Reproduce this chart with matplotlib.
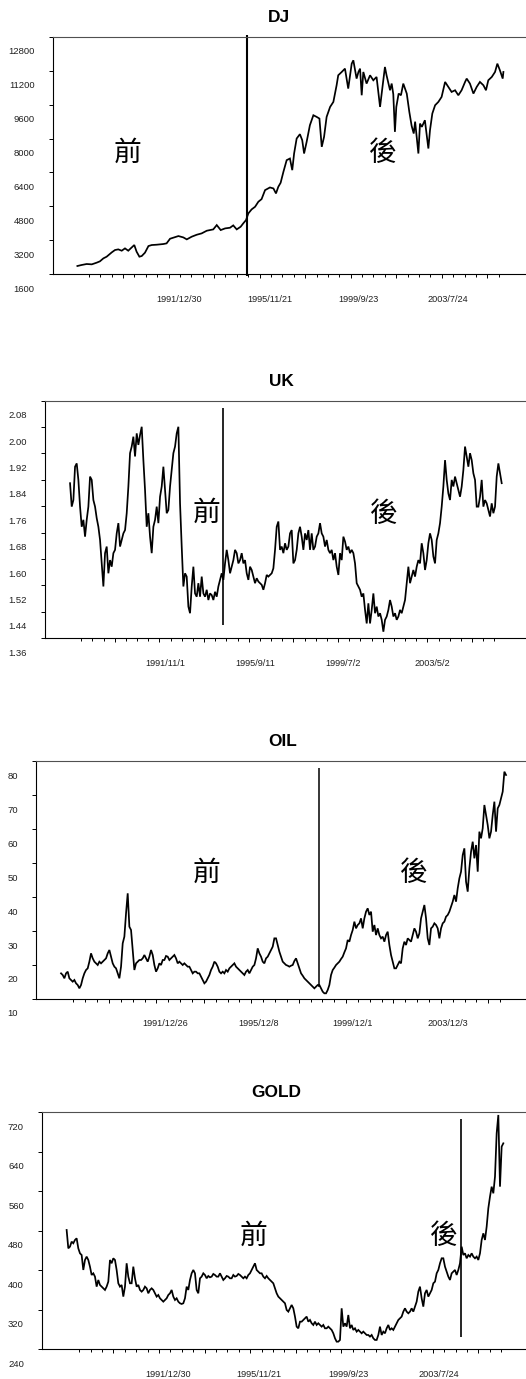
import numpy as np
import pandas as pd
import matplotlib
matplotlib.use("Agg")
import matplotlib.pyplot as plt
from matplotlib.transforms import ScaledTranslation, blended_transform_factory

# ---------------------------------------------------------------- data
# Dow Jones index: (decimal year, level)
dj_years = [
    1987.62, 1987.80, 1988.02, 1988.24, 1988.45, 1988.59, 1988.74, 1988.88, 1989.10, 1989.24,
    1989.38, 1989.53, 1989.67, 1989.81, 1989.96, 1990.07, 1990.17, 1990.29, 1990.39, 1990.53,
    1990.68, 1990.82, 1991.03, 1991.32, 1991.46, 1991.61, 1991.75, 1991.97, 1992.18, 1992.33,
    1992.54, 1992.76, 1992.97, 1993.19, 1993.47, 1993.62, 1993.79, 1993.98, 1994.19, 1994.33,
    1994.48, 1994.65, 1994.76, 1994.88, 1994.98, 1995.12, 1995.27, 1995.41, 1995.55, 1995.70,
    1995.91, 1996.06, 1996.17, 1996.27, 1996.37, 1996.49, 1996.63, 1996.77, 1996.87, 1996.95,
    1997.06, 1997.20, 1997.30, 1997.38, 1997.49, 1997.63, 1997.78, 1997.92, 1998.04, 1998.14,
    1998.24, 1998.35, 1998.50, 1998.64, 1998.78, 1998.85, 1999.00, 1999.14, 1999.28, 1999.43,
    1999.50, 1999.64, 1999.72, 1999.79, 1999.86, 1999.93, 2000.07, 2000.22, 2000.36, 2000.50,
    2000.65, 2000.79, 2000.86, 2000.93, 2001.08, 2001.15, 2001.22, 2001.29, 2001.35, 2001.45,
    2001.55, 2001.65, 2001.80, 2001.91, 2002.01, 2002.10, 2002.16, 2002.30, 2002.37, 2002.45,
    2002.58, 2002.73, 2002.80, 2002.90, 2003.02, 2003.16, 2003.30, 2003.45, 2003.59, 2003.73,
    2003.88, 2004.02, 2004.16, 2004.31, 2004.38, 2004.52, 2004.67, 2004.81, 2004.95, 2005.10,
    2005.21, 2005.31, 2005.46, 2005.60, 2005.70, 2005.81, 2005.93, 2005.96,
]
dj_values = [
    1978, 2025, 2072, 2056, 2135, 2198, 2339, 2418, 2622, 2733,
    2764, 2701, 2811, 2701, 2858, 2969, 2654, 2418, 2449, 2607,
    2921, 2969, 2984, 3016, 3047, 3267, 3315, 3393, 3330, 3236,
    3362, 3456, 3519, 3645, 3708, 3912, 3676, 3755, 3786, 3897,
    3708, 3834, 3991, 4148, 4463, 4652, 4777, 5013, 5139, 5564,
    5690, 5643, 5407, 5721, 5910, 6429, 6980, 7058, 6508, 7294,
    8002, 8207, 7923, 7294, 7845, 8631, 9103, 9025, 8946, 7609,
    8081, 9025, 9496, 9732, 10519, 10991, 11148, 11305, 10362, 11541,
    11699, 10834, 11148, 11305, 10047, 11148, 10598, 10991, 10755, 10912,
    9496, 10755, 11384, 10991, 10283, 10600, 10100, 8317, 9496, 10126,
    10047, 10598, 10126, 9261, 8600, 8238, 8800, 7294, 8710, 8553,
    8867, 7530, 8395, 9182, 9575, 9732, 9968, 10676, 10440, 10204,
    10283, 10047, 10283, 10676, 10834, 10598, 10126, 10440, 10676, 10519,
    10283, 10755, 10912, 11148, 11541, 11226, 10834, 11148,
]

# GBP/USD, evenly spaced observations between the two end dates
uk_span = (1987.711, 2006.325)
uk_values = [
    1.830, 1.759, 1.779, 1.880, 1.890, 1.840, 1.759, 1.698, 1.719, 1.668,
    1.719, 1.759, 1.850, 1.840, 1.779, 1.759, 1.724, 1.698, 1.658, 1.587,
    1.517, 1.618, 1.638, 1.557, 1.597, 1.577, 1.618, 1.628, 1.678, 1.709,
    1.638, 1.658, 1.678, 1.688, 1.739, 1.820, 1.921, 1.941, 1.971, 1.911,
    1.981, 1.946, 1.976, 2.001, 1.900, 1.809, 1.698, 1.739, 1.668, 1.618,
    1.698, 1.719, 1.759, 1.709, 1.789, 1.820, 1.880, 1.809, 1.739, 1.749,
    1.820, 1.870, 1.921, 1.941, 1.981, 2.001, 1.769, 1.638, 1.517, 1.557,
    1.547, 1.456, 1.436, 1.517, 1.577, 1.496, 1.486, 1.527, 1.486, 1.547,
    1.496, 1.486, 1.507, 1.476, 1.496, 1.491, 1.476, 1.501, 1.486, 1.517,
    1.537, 1.557, 1.537, 1.587, 1.628, 1.597, 1.557, 1.577, 1.597, 1.628,
    1.618, 1.587, 1.597, 1.618, 1.587, 1.597, 1.557, 1.537, 1.577, 1.567,
    1.547, 1.527, 1.542, 1.532, 1.527, 1.522, 1.507, 1.527, 1.552, 1.547,
    1.552, 1.557, 1.572, 1.628, 1.698, 1.714, 1.628, 1.638, 1.618, 1.648,
    1.628, 1.638, 1.678, 1.688, 1.587, 1.597, 1.628, 1.678, 1.698, 1.668,
    1.628, 1.678, 1.658, 1.688, 1.628, 1.678, 1.628, 1.638, 1.668, 1.678,
    1.709, 1.678, 1.668, 1.638, 1.658, 1.628, 1.618, 1.628, 1.597, 1.618,
    1.577, 1.552, 1.618, 1.597, 1.668, 1.653, 1.628, 1.638, 1.618, 1.628,
    1.618, 1.587, 1.527, 1.517, 1.507, 1.486, 1.496, 1.446, 1.405, 1.466,
    1.405, 1.446, 1.496, 1.436, 1.456, 1.426, 1.436, 1.416, 1.380, 1.416,
    1.426, 1.446, 1.476, 1.456, 1.426, 1.436, 1.416, 1.426, 1.446, 1.436,
    1.456, 1.476, 1.527, 1.577, 1.527, 1.547, 1.567, 1.547, 1.577, 1.597,
    1.587, 1.648, 1.618, 1.567, 1.597, 1.648, 1.678, 1.658, 1.608, 1.587,
    1.658, 1.678, 1.709, 1.759, 1.820, 1.900, 1.840, 1.799, 1.779, 1.840,
    1.820, 1.850, 1.830, 1.809, 1.789, 1.820, 1.870, 1.941, 1.911, 1.880,
    1.921, 1.900, 1.860, 1.840, 1.759, 1.759, 1.789, 1.840, 1.759, 1.779,
    1.769, 1.749, 1.729, 1.769, 1.739, 1.759, 1.850, 1.890, 1.860, 1.830,
]

# crude oil price (USD/bbl), evenly spaced observations
oil_span = (1987.553, 2006.393)
oil_values = [
    17.55, 17.06, 16.08, 17.55, 18.04, 16.08, 15.59, 15.10, 15.59, 14.61,
    14.12, 13.14, 14.12, 16.08, 17.55, 18.53, 19.02, 20.98, 23.43, 21.96,
    20.98, 20.49, 20.00, 20.98, 20.49, 20.98, 21.47, 21.96, 23.43, 24.41,
    22.45, 20.49, 19.51, 19.02, 17.55, 16.08, 19.51, 26.37, 28.33, 35.20,
    41.08, 31.27, 30.29, 24.41, 18.53, 20.49, 20.98, 21.47, 21.47, 21.96,
    22.94, 21.96, 20.98, 22.45, 24.41, 22.94, 20.00, 18.04, 19.02, 20.49,
    20.00, 21.47, 21.47, 22.65, 22.45, 21.47, 21.96, 22.45, 22.94, 21.96,
    20.49, 20.98, 20.49, 20.00, 20.49, 20.00, 19.51, 19.51, 18.53, 17.55,
    18.04, 18.04, 17.55, 17.55, 16.57, 15.59, 14.61, 15.10, 16.08, 17.06,
    18.53, 19.51, 20.98, 20.49, 19.51, 18.04, 17.55, 18.04, 17.55, 18.53,
    18.04, 19.02, 19.51, 20.00, 20.49, 19.51, 19.02, 18.53, 18.04, 17.55,
    17.06, 18.04, 18.53, 17.55, 18.53, 19.51, 20.00, 21.96, 24.90, 23.43,
    22.45, 20.98, 20.49, 21.96, 22.45, 23.43, 24.41, 25.39, 27.84,
    27.84, 25.88, 23.92, 22.45, 20.98, 20.49, 20.00, 19.80, 19.51, 19.80,
    20.00, 21.18, 21.96, 20.49, 19.02, 17.55, 16.86, 16.08, 15.59, 15.10,
    14.61, 14.12, 13.63, 13.14, 13.63, 14.12, 14.12, 13.14, 12.16, 11.67,
    11.67, 12.65, 14.12, 17.06, 18.53, 19.22, 20.00, 20.49, 20.98, 21.77,
    22.45, 23.73, 24.90, 27.35, 26.86, 28.81, 30.29, 32.75, 30.78, 31.77,
    32.26, 33.72, 30.78, 33.72, 35.69, 36.67, 34.71, 35.69, 29.80, 31.77,
    28.81, 30.78, 28.81, 27.84, 28.33, 26.86, 28.81, 29.80, 25.88, 22.94,
    20.98, 19.02, 19.02, 20.00, 20.98, 20.49, 24.90, 26.86, 25.88, 27.84,
    27.35, 26.86, 28.81, 30.78, 29.80, 27.84, 29.31, 33.72, 35.69, 37.65,
    33.72, 27.84, 25.88, 30.78, 31.27, 32.26, 31.77, 30.78, 27.84, 30.78,
    32.26, 32.75, 34.22, 34.71, 35.69, 37.16, 38.63, 40.59, 38.63, 42.55,
    45.49, 47.45, 52.35, 54.31, 44.51, 41.57, 48.43, 53.33, 56.27, 51.37,
    55.29, 47.45, 59.22, 57.25, 60.20, 67.06, 64.12, 61.18, 57.25, 59.22,
    64.12, 68.04, 59.22, 66.08, 67.06, 69.02, 70.98, 76.86, 75.88,
]

# gold price (USD/oz), evenly spaced observations
gold_span = (1987.641, 2006.342)
gold_values = [
    481.7, 444.5, 447.9, 458.0, 454.7, 461.4, 464.8, 444.5, 434.4, 431.0,
    400.7, 420.9, 427.7, 420.9, 407.4, 390.5, 393.9, 387.2, 366.9, 380.4,
    370.3, 366.9, 363.5, 360.2, 366.9, 377.0, 420.9, 414.2, 424.3, 420.9,
    400.7, 373.7, 366.9, 370.3, 346.7, 366.9, 414.2, 387.2, 373.7, 373.7,
    407.4, 383.8, 366.9, 370.3, 360.2, 356.8, 360.2, 366.9, 363.5, 353.4,
    360.2, 363.5, 360.2, 353.4, 346.7, 350.0, 343.3, 339.9, 336.5, 339.9,
    343.3, 350.0, 353.4, 360.2, 346.7, 339.9, 343.3, 336.5, 333.2, 331.8,
    333.2, 343.3, 366.9, 360.2, 380.4, 393.9, 400.7, 393.9, 360.2, 353.4,
    383.8, 387.2, 393.9, 390.5, 383.8, 388.5, 385.8, 387.2, 392.6, 390.5,
    387.2, 387.2, 393.9, 387.2, 380.4, 383.8, 388.5, 387.2, 383.8, 383.8,
    390.5, 387.2, 388.5, 392.6, 390.5, 387.2, 383.8, 387.2, 383.8, 390.5,
    393.9, 400.7, 407.4, 414.2, 400.7, 397.3, 393.9, 393.9, 387.2, 383.8,
    388.5, 383.8, 380.4, 377.0, 373.7, 363.5, 353.4, 346.7, 343.3, 339.9,
    336.5, 333.2, 319.7, 316.3, 323.0, 329.8, 323.0, 306.2, 285.9, 282.5,
    296.0, 296.0, 299.4, 302.8, 306.2, 296.0, 299.4, 292.7, 289.3, 296.0,
    289.3, 292.7, 289.3, 285.9, 289.3, 282.5, 282.5, 285.9, 282.5, 279.2,
    272.4, 262.3, 255.5, 255.5, 258.9, 323.0, 285.9, 292.7, 285.9, 309.5,
    282.5, 289.3, 279.2, 282.5, 275.8, 279.2, 275.8, 272.4, 275.8, 272.4,
    269.0, 269.0, 265.7, 269.0, 262.3, 258.9, 258.9, 269.0, 285.9, 269.0,
    275.8, 272.4, 282.5, 289.3, 279.2, 282.5, 279.2, 285.9, 292.7, 299.4,
    302.8, 306.2, 316.3, 323.0, 316.3, 312.9, 316.3, 323.0, 316.3, 326.4,
    336.5, 356.8, 366.9, 343.3, 326.4, 353.4, 360.2, 346.7, 353.4, 360.2,
    373.7, 377.0, 393.9, 400.7, 414.2, 424.3, 424.3, 407.4, 397.3, 387.2,
    380.4, 393.9, 397.3, 400.7, 390.5, 400.7, 414.2, 447.9, 431.0, 434.4,
    424.3, 431.0, 427.7, 434.4, 427.7, 424.3, 427.7, 420.9, 434.4, 461.4,
    474.9, 461.4, 488.4, 525.6, 549.2, 569.4, 555.9, 589.7, 677.5, 714.6,
    569.4, 650.5, 657.2,
]

# date labels under each horizontal axis
dj_labels = ["1991/12/30", "1995/11/21", "1999/9/23", "2003/7/24"]
uk_labels = ["1991/11/1", "1995/9/11", "1999/7/2", "2003/5/2"]
oil_labels = ["1991/12/26", "1995/12/8", "1999/12/1", "2003/12/3"]
gold_labels = ["1991/12/30", "1995/11/21", "1999/9/23", "2003/7/24"]

# structural break dates and the extent of the marker line
dj_break = (1994.909, 1510, 12912)
uk_break = (1994.294, 1.400, 2.057)
oil_break = (1998.49, 13.5, 77.8)
gold_break = (2004.53, 265.7, 705.8)


# ---------------------------------------------------------------- helpers
def to_year(s):
    y, m, d = map(int, s.split("/"))
    t = pd.Timestamp(y, m, d)
    a, b = pd.Timestamp(y, 1, 1), pd.Timestamp(y + 1, 1, 1)
    return y + (t - a) / (b - a)


W, H, DPI = 526, 1379, 100
fig = plt.figure(figsize=(W / DPI, H / DPI), dpi=DPI)
fig.patch.set_facecolor("white")

CJK = ["Noto Sans CJK TC", "DejaVu Sans"]
LATIN = ["Liberation Sans", "DejaVu Sans"]


def px_rect(left, top, bottom):
    return [left / W, 1 - bottom / H, (W - left) / W, (bottom - top) / H]


def draw_panel(rect, title, title_xy, x, y, ylim, ystep, yfmt, xlim,
               first_major, major_step, kmin, kmax, labels, brk, brk_lw,
               brk_clip, cjk_pos):
    ax = fig.add_axes(px_rect(*rect))
    ax.set_xlim(*xlim)
    ax.set_ylim(*ylim)
    ax.plot(x, y, color="black", lw=1.25, solid_joinstyle="miter")

    bx, blo, bhi = brk
    ax.plot([bx, bx], [blo, bhi], color="black", lw=brk_lw,
            solid_capstyle="butt", clip_on=not brk_clip)

    ax.spines["right"].set_visible(False)
    ax.spines["top"].set_color("#505050")
    for s in ("top", "left", "bottom"):
        ax.spines[s].set_linewidth(0.8)

    # y axis: labels sit a little below their tick marks
    yt = np.arange(ylim[0], ylim[1] + ystep / 2, ystep)
    ax.set_yticks(yt)
    ax.set_yticklabels([yfmt.format(v) for v in yt], fontsize=6.8,
                       family=LATIN, color="#202020")
    ax.tick_params(axis="y", direction="out", length=3.0, width=0.7, pad=10)
    shift = ScaledTranslation(0, -0.14, fig.dpi_scale_trans)
    for lab in ax.get_yticklabels():
        lab.set_transform(lab.get_transform() + shift)

    # x axis: major / minor marks, dated labels placed independently
    k = np.arange(kmin, kmax + 1)
    pos = first_major + k * major_step / 4.0
    ax.set_xticks(pos[k % 4 == 0])
    ax.set_xticks(pos[k % 4 != 0], minor=True)
    ax.set_xticklabels([])
    ax.tick_params(axis="x", which="major", direction="out", length=3.0, width=0.7)
    ax.tick_params(axis="x", which="minor", direction="out", length=2.0, width=0.7)
    tr = blended_transform_factory(ax.transData, ax.transAxes) + \
        ScaledTranslation(0, -0.25, fig.dpi_scale_trans)
    for lab in labels:
        ax.text(to_year(lab), 0, lab, transform=tr, ha="center", va="center",
                fontsize=6.6, family=LATIN, color="#202020")

    fig.text(title_xy[0] / W, 1 - title_xy[1] / H, title, ha="center",
             va="center", fontsize=12.4, fontweight="bold", family=LATIN)
    for ch, (cx, cy) in zip(("前", "後"), cjk_pos):
        fig.text(cx / W, 1 - cy / H, ch, ha="center", va="center",
                 fontsize=20, family=CJK, fontweight="light", color="black")
    return ax


uk_x = np.linspace(uk_span[0], uk_span[1], len(uk_values))
oil_x = np.linspace(oil_span[0], oil_span[1], len(oil_values))
gold_x = np.linspace(gold_span[0], gold_span[1], len(gold_values))

draw_panel((52.7, 37, 274), "DJ", (279, 17), dj_years, dj_values,
           (1600, 12800), 1600, "{:.0f}", (1986.558, 2006.933),
           1989.584, 1.9604, -3, 33, dj_labels, dj_break, 1.5, True,
           [(128, 153), (383, 153)])

draw_panel((45, 400.7, 638.3), "UK", (281, 381.7), uk_x, uk_values,
           (1.36, 2.08), 0.08, "{:.2f}", (1986.631, 2007.373),
           1989.637, 1.9259, -3, 34, uk_labels, uk_break, 1.2, False,
           [(207, 513), (384, 514)])

draw_panel((36, 761, 999), "OIL", (282.7, 741.7), oil_x, oil_values,
           (10, 80), 10, "{:.0f}", (1986.493, 2007.238),
           1989.584, 2.0072, -3, 33, oil_labels, oil_break, 1.1, False,
           [(206.7, 873.3), (414, 873.3)])

draw_panel((42, 1112.3, 1349.3), "GOLD", (276, 1092.7), gold_x, gold_values,
           (240, 720), 80, "{:.0f}", (1986.586, 2007.313),
           1989.640, 1.954, -3, 34, gold_labels, gold_break, 1.2, True,
           [(254, 1236), (444, 1236)])

fig.savefig("out.png", dpi=DPI, facecolor="white")
